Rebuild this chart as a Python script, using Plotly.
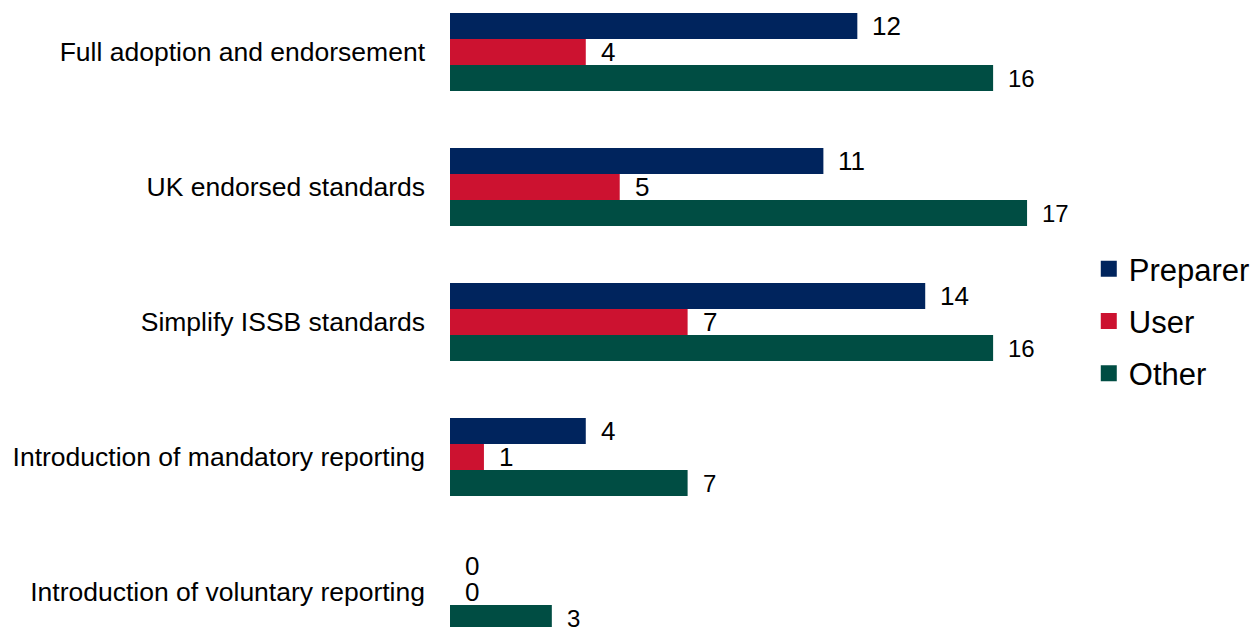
import plotly.graph_objects as go

categories = [
    "Full adoption and endorsement",
    "UK endorsed standards",
    "Simplify ISSB standards",
    "Introduction of mandatory reporting",
    "Introduction of voluntary reporting",
]
preparer = [12, 11, 14, 4, 0]
user = [4, 5, 7, 1, 0]
other = [16, 17, 16, 7, 3]

series = [
    ("Preparer", preparer, "#00245D", 26),
    ("User", user, "#CC1230", 26),
    ("Other", other, "#004D43", 24),
]

FONT = "Liberation Sans, Arial, sans-serif"
BAR_PX = 26  # pixel thickness of one bar

fig = go.Figure()
for i, (name, vals, color, lsize) in enumerate(series):
    fig.add_trace(go.Bar(
        name=name, y=categories, x=vals, orientation="h",
        marker=dict(color=color, line=dict(width=0)),
        legendgroup=name, showlegend=False, hoverinfo="skip",
    ))
    # legend entry with a larger square symbol
    fig.add_trace(go.Scatter(
        name=name, x=[None], y=[None], mode="markers",
        marker=dict(symbol="square", size=16, color=color),
        legendgroup=name, showlegend=True,
    ))
    for cat, v in zip(categories, vals):
        fig.add_annotation(
            x=v, y=cat, text=str(v), showarrow=False,
            xanchor="left", yanchor="middle", xshift=13,
            yshift=(1 - i) * BAR_PX,
            font=dict(family=FONT, size=lsize, color="#000000"),
        )

fig.update_layout(
    width=1255, height=627,
    margin=dict(l=450, r=0, t=0, b=0),
    paper_bgcolor="white", plot_bgcolor="white",
    barmode="group", bargap=0.422, bargroupgap=0,
    font=dict(family=FONT, color="#000000"),
    legend=dict(
        x=(1096 - 450) / 805, xanchor="left",
        y=1 - 321 / 627, yanchor="middle",
        font=dict(family=FONT, size=31, color="#000000"),
        traceorder="grouped", tracegroupgap=9,
        itemwidth=30, bgcolor="rgba(0,0,0,0)",
    ),
    showlegend=True,
)
fig.update_xaxes(range=[0, 23.45], visible=False, fixedrange=True)
fig.update_yaxes(
    type="category", range=[(627 - 52) / 135, -52 / 135],
    showgrid=False, zeroline=False, showline=False, ticks="",
    ticklabelstandoff=24,
    tickfont=dict(family=FONT, size=26.5, color="#000000"),
)

fig.write_html("out.html")
